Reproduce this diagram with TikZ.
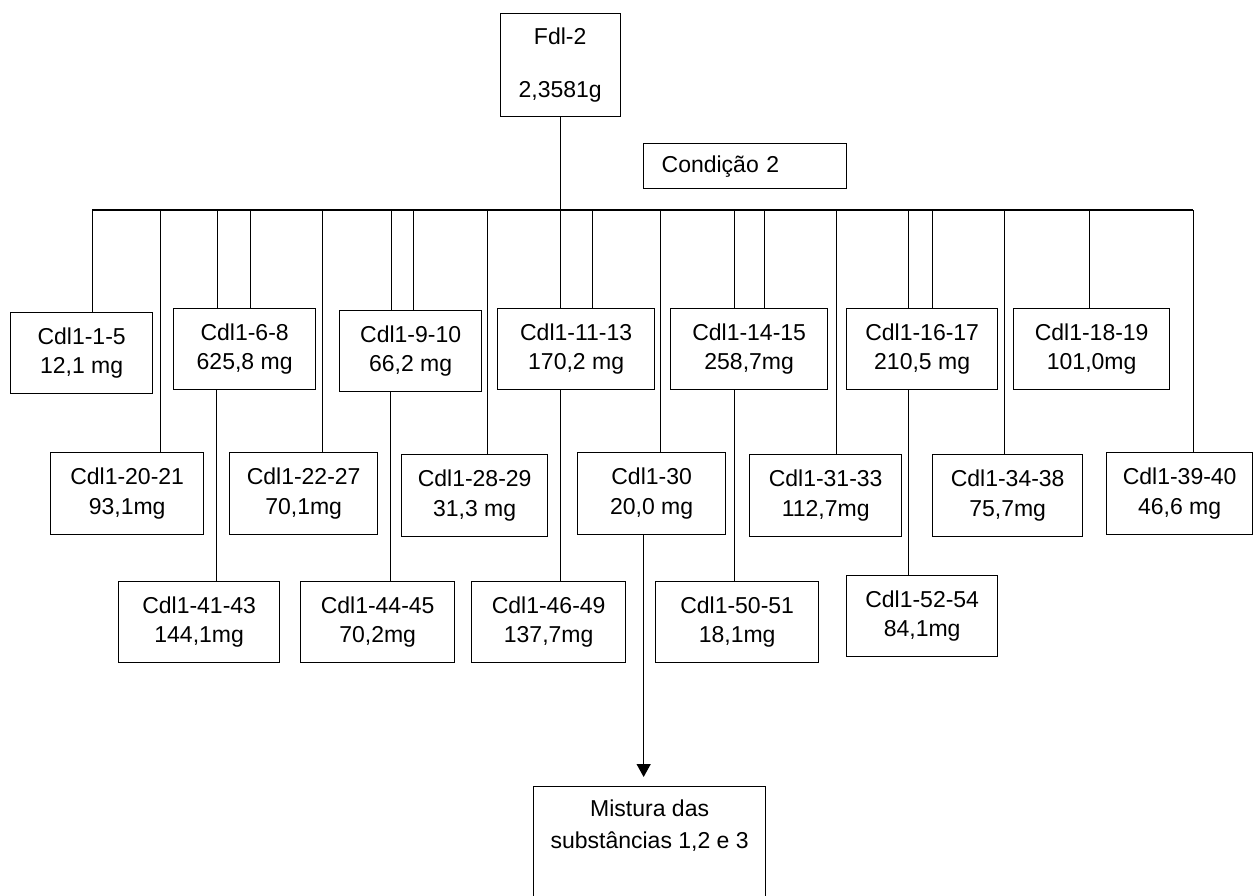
\documentclass[tikz,border=0pt]{standalone}
\usepackage{fontspec}
\setmainfont{Liberation Sans}
\usetikzlibrary{arrows.meta}
\begin{document}
\begin{tikzpicture}[x=1pt,y=-1pt,
  every node/.style={font=\fontsize{23}{29.5}\selectfont},
  box/.style={draw=black, line width=1.3pt, rectangle, inner sep=0pt,
    align=center, anchor=north west, minimum height=81pt},
  link/.style={draw=black, line width=1.3pt},
  arrowlink/.style={link, -{Triangle[width=14pt,length=13pt]}}]
\useasboundingbox (0,0) rectangle (1256,895);

% source sample and condition label
\node[box, minimum width=120pt, minimum height=103pt] (fdl) at (499.5,13) {Fdl-2\\[24pt]2,3581g};
\node[box, minimum height=45pt, text width=167pt, inner xsep=18pt, align=left] (cond) at (643,143) {Condição 2};

% first row of fractions
\node[box, minimum width=142pt] (c1)  at (10,312)   {Cdl1-1-5\\12,1 mg};
\node[box, minimum width=142pt] (c6)  at (173,308)  {Cdl1-6-8\\625,8 mg};
\node[box, minimum width=142pt] (c9)  at (339,310)  {Cdl1-9-10\\66,2 mg};
\node[box, minimum width=157pt] (c11) at (497,308)  {Cdl1-11-13\\170,2 mg};
\node[box, minimum width=157pt] (c14) at (670,308)  {Cdl1-14-15\\258,7mg};
\node[box, minimum width=151pt] (c16) at (846,308)  {Cdl1-16-17\\210,5 mg};
\node[box, minimum width=156pt] (c18) at (1013,308) {Cdl1-18-19\\101,0mg};

% second row
\node[box, minimum width=153pt, minimum height=82pt] (c20) at (50,452)   {Cdl1-20-21\\93,1mg};
\node[box, minimum width=148pt, minimum height=82pt] (c22) at (229,452)  {Cdl1-22-27\\70,1mg};
\node[box, minimum width=146pt, minimum height=82pt] (c28) at (401,454)  {Cdl1-28-29\\31,3 mg};
\node[box, minimum width=148pt, minimum height=82pt] (c30) at (577,452)  {Cdl1-30\\20,0 mg};
\node[box, minimum width=152pt, minimum height=82pt] (c31) at (749,454)  {Cdl1-31-33\\112,7mg};
\node[box, minimum width=150pt, minimum height=82pt] (c34) at (932,454)  {Cdl1-34-38\\75,7mg};
\node[box, minimum width=146pt, minimum height=82pt] (c39) at (1106,452) {Cdl1-39-40\\46,6 mg};

% third row
\node[box, minimum width=161pt] (c41) at (118,581) {Cdl1-41-43\\144,1mg};
\node[box, minimum width=154pt] (c44) at (300,581) {Cdl1-44-45\\70,2mg};
\node[box, minimum width=154pt] (c46) at (471,581) {Cdl1-46-49\\137,7mg};
\node[box, minimum width=163pt] (c50) at (655,581) {Cdl1-50-51\\18,1mg};
\node[box, minimum width=151pt] (c52) at (846,575) {Cdl1-52-54\\84,1mg};

% final mixture
\node[box, minimum width=232pt, minimum height=120pt] (mist) at (533,786) {};
\node[anchor=north, align=center, inner sep=0pt] (misttxt) at ([yshift=-14pt]mist.north)
  {Mistura das\\[2pt]substâncias 1,2 e 3};

% distribution bus
\coordinate (busL) at (92,210);
\coordinate (busR) at (1193,210);
\draw[link] (busL) -- (busR);
\draw[link] (fdl.south) -- (fdl.south |- busL);

% drops from the bus
\draw[link] ([xshift=11pt]c1.north)    -- ([xshift=11pt]c1.north |- busL);
\draw[link] ([xshift=33.5pt]c20.north) -- ([xshift=33.5pt]c20.north |- busL);
\draw[link] ([xshift=-27pt]c6.north)   -- ([xshift=-27pt]c6.north |- busL);
\draw[link] ([xshift=6pt]c6.north)     -- ([xshift=6pt]c6.north |- busL);
\draw[link] ([xshift=19pt]c22.north)   -- ([xshift=19pt]c22.north |- busL);
\draw[link] ([xshift=-19pt]c9.north)   -- ([xshift=-19pt]c9.north |- busL);
\draw[link] ([xshift=3pt]c9.north)     -- ([xshift=3pt]c9.north |- busL);
\draw[link] ([xshift=13pt]c28.north)   -- ([xshift=13pt]c28.north |- busL);
\draw[link] (fdl.south |- c11.north)   -- (fdl.south |- busL);
\draw[link] ([xshift=16.5pt]c11.north) -- ([xshift=16.5pt]c11.north |- busL);
\draw[link] ([xshift=9pt]c30.north)    -- ([xshift=9pt]c30.north |- busL);
\draw[link] ([xshift=-14.5pt]c14.north) -- ([xshift=-14.5pt]c14.north |- busL);
\draw[link] ([xshift=15.5pt]c14.north) -- ([xshift=15.5pt]c14.north |- busL);
\draw[link] ([xshift=11pt]c31.north)   -- ([xshift=11pt]c31.north |- busL);
\draw[link] ([xshift=-13.5pt]c16.north) -- ([xshift=-13.5pt]c16.north |- busL);
\draw[link] ([xshift=10.5pt]c16.north) -- ([xshift=10.5pt]c16.north |- busL);
\draw[link] ([xshift=-3pt]c34.north)   -- ([xshift=-3pt]c34.north |- busL);
\draw[link] ([xshift=-2pt]c18.north)   -- ([xshift=-2pt]c18.north |- busL);
\draw[link] ([xshift=14pt]c39.north)   -- ([xshift=14pt]c39.north |- busL);

% links down to the third row
\draw[link] ([xshift=-28pt]c6.south)   -- ([xshift=-28pt]c6.south |- c41.north);
\draw[link] ([xshift=-20pt]c9.south)   -- ([xshift=-20pt]c9.south |- c44.north);
\draw[link] (fdl.south |- c11.south)   -- (fdl.south |- c46.north);
\draw[link] ([xshift=-14.5pt]c14.south) -- ([xshift=-14.5pt]c14.south |- c50.north);
\draw[link] ([xshift=-13.5pt]c16.south) -- ([xshift=-13.5pt]c16.south |- c52.north);

% arrow to the mixture
\draw[arrowlink, shorten >=9pt] ([xshift=-8pt]c30.south) -- ([xshift=-8pt]c30.south |- mist.north);
\end{tikzpicture}
\end{document}
